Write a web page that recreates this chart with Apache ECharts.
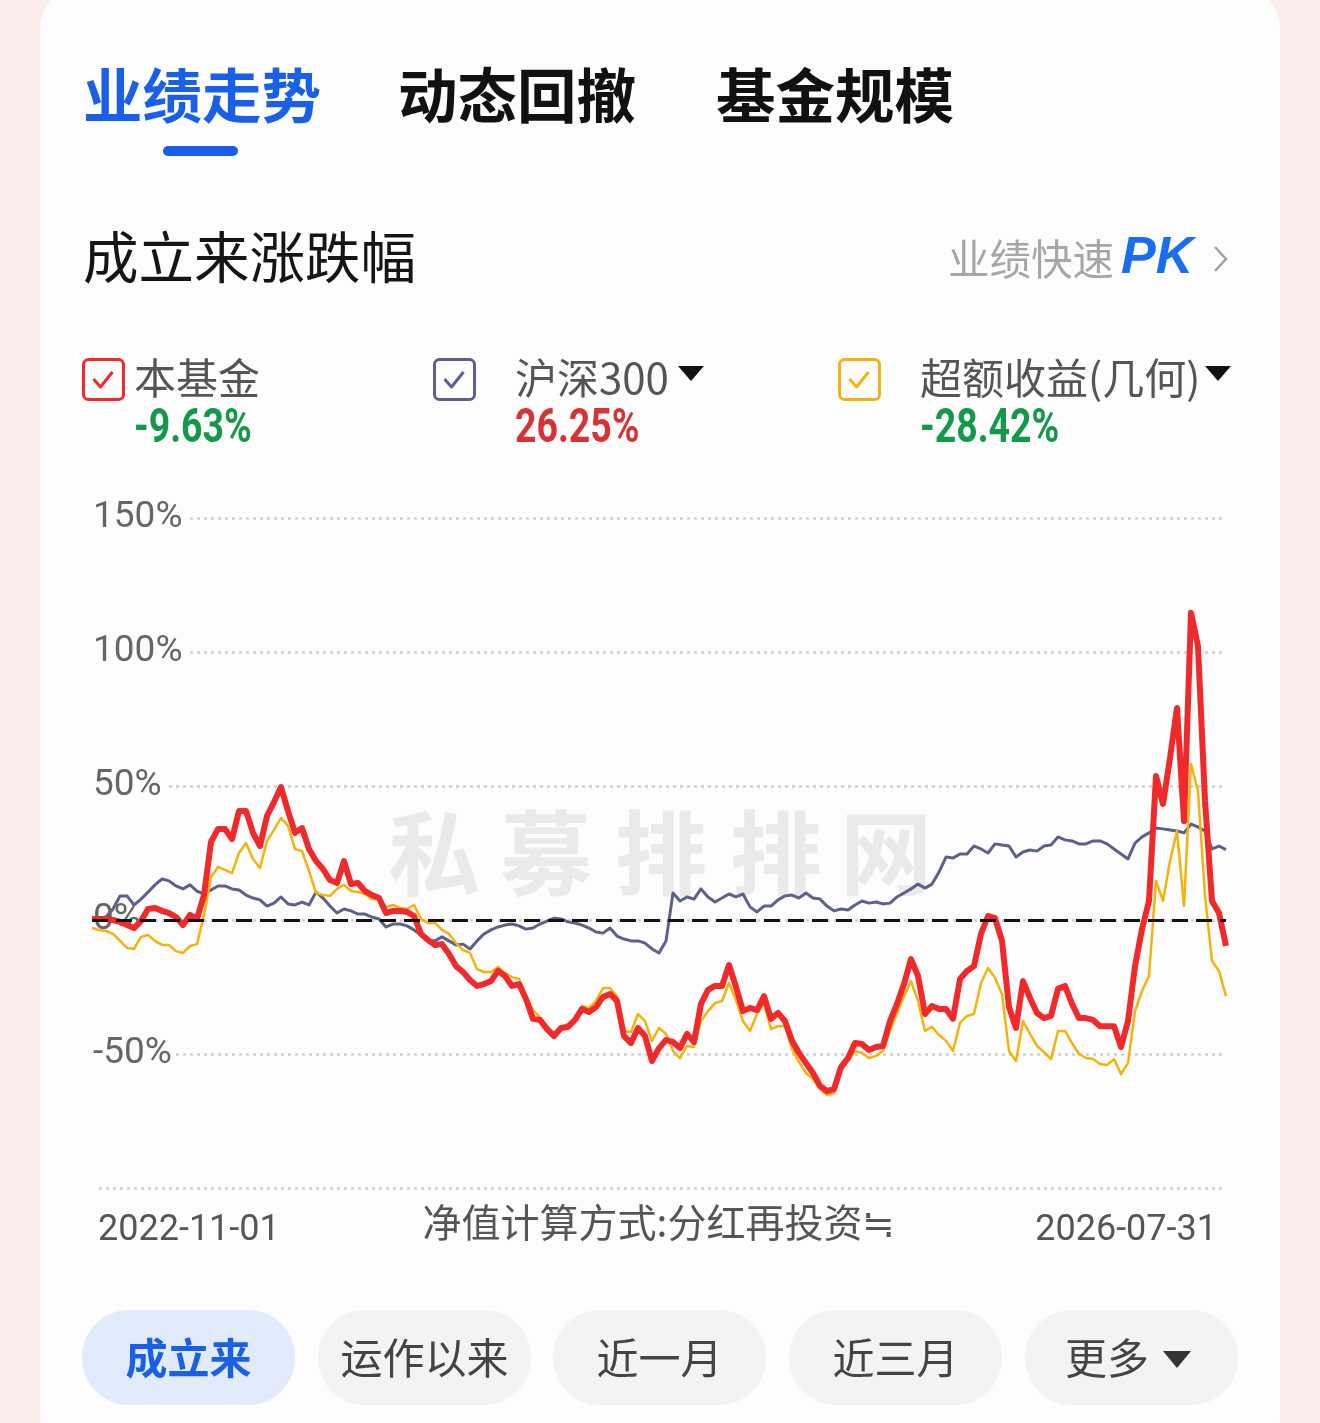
<!DOCTYPE html>
<html>
<head>
<meta charset="utf-8">
<script src="https://cdn.jsdelivr.net/npm/echarts@6/dist/echarts.min.js"></script>
<style>
html,body{margin:0;padding:0;width:1320px;height:1423px;overflow:hidden;background:#fbecec;}
#card{position:absolute;left:40px;top:-12px;width:1240px;height:1470px;background:#fdfdfd;border-radius:40px;}
#chart{position:absolute;left:0;top:0;width:1320px;height:1423px;}
</style>
</head>
<body>
<div id="card"></div>
<div id="chart"></div>
<script>
// ---------------- data ----------------
const startDate = '2022-11-01';
const endDate = '2026-07-31';
const xTickLabels = ['2022-11-01', '2026-07-31'];
const yTicks = [-100, -50, 0, 50, 100, 150];

const seriesNames = ['本基金', '沪深300', '超额收益(几何)'];
const finalReturns = ['-9.63%', '26.25%', '-28.42%'];

// 本基金 cumulative return (%)
const fundReturn = [
  0.4, 0.4, 0.4, 0, -0.7, -1.9, -3.0, -0.4, 4.1, 4.5,
  3.4, 2.6, 1.1, -1.9, 1.9, 0.4, 9.3, 29.1, 34.0, 34.0,
  30.2, 40.7, 40.7, 32.5, 27.6, 38.8, 44.0, 49.6, 40.7, 32.5,
  34.3, 26.5, 22.0, 19.0, 14.9, 13.8, 22.0, 13.4, 13.8, 10.8,
  9.3, 8.2, 2.6, 3.4, 3.4, 3.0, 1.5, -5.2, -7.5, -9.3,
  -9.0, -12.7, -17.2, -19.4, -22.4, -24.6, -23.9, -22.8, -19.0, -20.9,
  -24.6, -23.9, -29.5, -36.9, -37.3, -40.7, -43.3, -40.3, -39.9, -37.3,
  -33.2, -34.3, -32.5, -28.7, -27.6, -30.2, -43.3, -45.9, -40.3, -43.3,
  -52.6, -47.8, -44.8, -45.5, -47.8, -42.5, -45.5, -31.3, -26.1, -24.6,
  -24.6, -16.8, -25.0, -34.0, -32.8, -33.6, -28.4, -36.9, -34.7, -37.7,
  -45.1, -49.6, -53.4, -57.1, -61.9, -63.8, -63.1, -54.9, -51.5, -45.9,
  -46.3, -48.5, -47.4, -47.0, -37.7, -31.3, -23.9, -14.6, -20.9, -35.1,
  -32.1, -33.2, -33.2, -36.9, -22.0, -19.0, -17.2, -5.2, 1.5, 0.7,
  -7.8, -32.5, -40.3, -22.8, -29.1, -34.7, -36.6, -35.8, -25.7, -24.6,
  -31.3, -36.6, -36.6, -37.3, -39.6, -39.6, -39.6, -47.4, -37.7, -17.2,
  -3.4, 7.1, 53.7, 43.3, 60.4, 79.1, 36.9, 114.6, 102.2, 44.4,
  7.1, 2.6, -9.63
];

// 沪深300 cumulative return (%)
const indexReturn = [
  0.7, 0.7, 1.1, 4.1, 9.0, 9.0, 5.6, 7.8, 10.4, 13.1,
  15.3, 14.6, 12.7, 11.6, 13.1, 10.8, 9.7, 11.2, 12.7, 12.7,
  11.6, 11.2, 9.3, 8.2, 7.5, 5.2, 6.3, 8.6, 6.0, 5.6,
  6.7, 5.6, 10.4, 8.2, 5.2, 2.6, 4.1, 3.4, 2.2, 2.2,
  1.1, 0.4, -2.6, -1.5, -1.5, -2.2, -3.7, -5.6, -7.5, -7.8,
  -6.3, -7.8, -9.3, -9.0, -10.8, -7.8, -5.2, -3.7, -2.6, -1.9,
  -1.5, -2.2, -3.4, -3.0, -1.5, -0.4, 0.7, 0.4, -0.7, -1.1,
  -1.9, -3.0, -4.5, -4.9, -3.0, -6.0, -7.1, -7.8, -7.8, -8.6,
  -10.8, -12.3, -7.8, 10.1, 7.1, 8.6, 7.8, 11.6, 8.6, 6.7,
  8.2, 9.7, 8.6, 9.7, 4.9, 3.0, 5.2, 5.2, 7.5, 9.0,
  9.3, 8.2, 10.1, 8.2, 7.8, 5.2, 3.4, 4.1, 3.7, 5.6,
  7.1, 6.3, 6.7, 6.0, 6.3, 8.6, 10.1, 11.6, 13.4, 11.9,
  13.4, 17.9, 23.5, 23.1, 24.6, 24.6, 27.6, 26.5, 25.0, 28.4,
  28.0, 27.6, 23.5, 25.4, 26.1, 25.7, 27.6, 28.0, 31.0, 29.9,
  29.5, 28.4, 28.4, 29.5, 29.5, 28.4, 26.5, 24.6, 22.8, 28.7,
  31.0, 32.5, 34.3, 34.0, 33.6, 33.2, 32.5, 35.8, 34.7, 33.2,
  26.5, 27.6, 26.25
];

// 超额收益(几何) (%)
const excessReturn = [
  -3.0, -3.7, -4.1, -5.2, -7.8, -10.4, -10.8, -6.3, -5.6, -7.8,
  -9.3, -9.3, -11.6, -12.3, -9.7, -9.0, 1.9, 16.0, 19.8, 18.7,
  17.5, 25.0, 28.7, 22.8, 19.4, 29.5, 33.6, 38.1, 35.1, 26.5,
  25.7, 18.3, 10.1, 9.3, 9.0, 11.6, 13.1, 10.8, 10.4, 9.7,
  7.8, 7.8, 4.9, 5.6, 4.5, 4.1, 5.6, 0.4, -1.1, -1.1,
  -3.7, -5.2, -8.6, -11.2, -12.3, -18.3, -19.4, -19.4, -17.5, -19.8,
  -21.3, -22.0, -28.4, -33.6, -36.2, -39.6, -42.2, -39.9, -38.8, -37.3,
  -32.1, -32.8, -30.2, -25.4, -25.4, -28.4, -41.4, -41.8, -35.1, -37.7,
  -45.1, -40.3, -42.5, -48.9, -51.5, -47.0, -47.4, -37.7, -34.0, -31.0,
  -30.2, -23.5, -29.9, -37.7, -41.4, -35.1, -31.0, -40.7, -39.6, -39.6,
  -48.1, -53.0, -57.1, -59.3, -63.1, -65.3, -64.6, -56.0, -52.6, -48.9,
  -49.6, -51.5, -50.7, -48.9, -41.4, -34.7, -28.4, -22.8, -30.2, -41.4,
  -39.9, -42.9, -45.1, -48.9, -38.4, -35.8, -35.1, -23.5, -17.9, -21.6,
  -27.6, -48.9, -52.6, -37.7, -42.5, -47.0, -49.3, -51.9, -41.4, -41.4,
  -45.9, -50.0, -51.5, -51.9, -53.7, -54.1, -51.9, -57.5, -53.4, -34.0,
  -26.5, -20.9, 14.6, 7.1, 22.0, 33.2, 5.2, 58.2, 48.1, 9.0,
  -15.3, -19.0, -28.42
];

// ---------------- chart ----------------
const n = fundReturn.length;
const t0 = Date.parse(startDate + 'T00:00:00Z');
const t1 = Date.parse(endDate + 'T00:00:00Z');
const dayMs = 86400000;
const totalDays = Math.round((t1 - t0) / dayMs);
const categories = fundReturn.map((_, i) => {
  const d = new Date(t0 + Math.round(i * totalDays / (n - 1)) * dayMs);
  return d.toISOString().slice(0, 10);
});

const BLUE = '#1a5fe8';
const RED = '#f02a2a';
const SLATE = '#5d6189';
const GOLD = '#f3b20c';
const CJK = '"Noto Sans CJK SC", "Noto Sans", sans-serif';
const NUM = 'Roboto, "Liberation Sans", sans-serif';

function txt(text, x, y, size, color, opts) {
  opts = opts || {};
  return {
    type: 'text', z: opts.z || 100, silent: true,
    x: x, y: y, scaleX: opts.scaleX || 1,
    style: {
      text: text, x: 0, y: 0,
      fontSize: size, fill: color,
      fontFamily: opts.family || CJK,
      fontWeight: opts.weight || 'normal',
      fontStyle: opts.style || 'normal',
      textAlign: opts.align || 'left',
      textVerticalAlign: 'middle'
    }
  };
}

const graphics = [];
// watermark
const wm = ['私', '募', '排', '排', '网'];
const wmX = [388, 500, 615, 730, 840];
wm.forEach((c, i) => graphics.push(txt(c, wmX[i], 853, 92, '#eaeaea', { weight: 'bold', z: 1 })));

// tabs
graphics.push(txt('业绩走势', 83, 95, 59.5, BLUE, { weight: 'bold' }));
graphics.push(txt('动态回撤', 398, 95, 59.5, '#111', { weight: 'bold' }));
graphics.push(txt('基金规模', 716, 95, 59.5, '#111', { weight: 'bold' }));
graphics.push({ type: 'rect', z: 100, silent: true, shape: { x: 163, y: 146, width: 75, height: 10, r: 5 }, style: { fill: BLUE } });

// subtitle
graphics.push(txt('成立来涨跌幅', 83, 257, 55.5, '#151515'));
graphics.push(txt('业绩快速', 948, 259, 41.5, '#a6a6a6'));
graphics.push(txt('PK', 1121, 259, 52, '#1a6ef0', { family: '"Liberation Sans", Roboto, sans-serif', weight: 'bold', style: 'italic' }));
graphics.push({ type: 'polyline', z: 100, silent: true, shape: { points: [[1215, 247], [1226, 259], [1215, 271]] }, style: { stroke: '#a0a0a0', lineWidth: 2.5, fill: null } });

// legend
const legendX = [83.5, 434.5, 839.5];
const legendColors = [RED, SLATE, GOLD];
const nameX = [134, 515, 920];
const valueColors = ['#14994a', '#d63434', '#14994a'];
for (let i = 0; i < 3; i++) {
  const bx = legendX[i];
  graphics.push({ type: 'rect', z: 100, silent: true, shape: { x: bx, y: 359.5, width: 40, height: 40, r: 5 }, style: { stroke: legendColors[i], lineWidth: 3, fill: null } });
  graphics.push({ type: 'polyline', z: 100, silent: true, shape: { points: [[bx + 10, 379], [bx + 17, 387], [bx + 29, 372]] }, style: { stroke: legendColors[i], lineWidth: 3, fill: null, lineJoin: 'round' } });
  graphics.push(txt(seriesNames[i], nameX[i], 378, 42, '#555'));
  graphics.push(txt(finalReturns[i], nameX[i], 430, 48, valueColors[i], { family: NUM, weight: 'bold', scaleX: 0.78 }));
}
graphics.push({ type: 'polygon', z: 100, silent: true, shape: { points: [[678, 366], [704, 366], [691, 381]] }, style: { fill: '#111' } });
graphics.push({ type: 'polygon', z: 100, silent: true, shape: { points: [[1205, 366], [1231, 366], [1218, 381]] }, style: { fill: '#111' } });

// footer note
graphics.push(txt('净值计算方式:分红再投资≒', 659, 1222, 39, '#555', { align: 'center' }));

// range buttons
const btnLabels = ['成立来', '运作以来', '近一月', '近三月', '更多'];
const btnX = [82, 318, 553, 789, 1025];
btnLabels.forEach((lab, i) => {
  const active = i === 0;
  graphics.push({ type: 'rect', z: 100, silent: true, shape: { x: btnX[i], y: 1310, width: 213, height: 95, r: 47 }, style: { fill: active ? '#e2ebfc' : '#f3f3f3' } });
  if (i === 4) {
    graphics.push(txt(lab, btnX[i] + 40, 1358, 42, '#444'));
    graphics.push({ type: 'polygon', z: 100, silent: true, shape: { points: [[1163, 1351], [1191, 1351], [1177, 1368]] }, style: { fill: '#333' } });
  } else {
    graphics.push(txt(lab, btnX[i] + 106.5, 1358, 42, active ? BLUE : '#444', { align: 'center', weight: active ? 'bold' : 'normal' }));
  }
});

const chart = echarts.init(document.getElementById('chart'), null, { renderer: 'canvas' });
chart.setOption({
  animation: false,
  backgroundColor: 'transparent',
  grid: { left: 92, right: 94, top: 518, bottom: 235, containLabel: false },
  xAxis: {
    type: 'category',
    data: categories,
    boundaryGap: false,
    axisLine: { show: false },
    axisTick: { show: false },
    splitLine: { show: false },
    axisLabel: {
      interval: (i) => i === 0 || i === n - 1,
      formatter: (v, i) => (i === 0 ? xTickLabels[0] : xTickLabels[1]),
      margin: 25,
      fontSize: 36,
      color: '#555',
      fontFamily: NUM,
      showMinLabel: true,
      showMaxLabel: true,
      alignMinLabel: 'left',
      alignMaxLabel: 'right',
      padding: [0, 9, 0, 6]
    }
  },
  yAxis: {
    type: 'value',
    min: yTicks[0],
    max: yTicks[yTicks.length - 1],
    interval: 50,
    axisLine: { show: false },
    axisTick: { show: false },
    splitLine: { show: true, lineStyle: { color: '#cfcfcf', width: 2.5, type: [3, 4] } },
    axisLabel: {
      inside: true,
      margin: 0,
      fontSize: 37,
      color: '#666',
      fontFamily: NUM,
      backgroundColor: '#fdfdfd',
      padding: [2, 4, 2, 1],
      formatter: (v) => (v === yTicks[0] ? '' : v + '%')
    }
  },
  series: [
    { name: seriesNames[1], type: 'line', data: indexReturn, symbol: 'none', z: 2,
      lineStyle: { color: SLATE, width: 3, join: 'round' } },
    { name: seriesNames[2], type: 'line', data: excessReturn, symbol: 'none', z: 3,
      lineStyle: { color: GOLD, width: 2.5, join: 'round' } },
    { name: seriesNames[0], type: 'line', data: fundReturn, symbol: 'none', z: 4,
      lineStyle: { color: RED, width: 6, join: 'round' } },
    { name: 'zero', type: 'line', data: [], z: 5, symbol: 'none',
      markLine: { silent: true, symbol: 'none', animation: false, label: { show: false },
        lineStyle: { color: '#111', width: 3, type: [16, 8] },
        data: [{ yAxis: 0 }] } }
  ],
  graphic: graphics
});
</script>
</body>
</html>
